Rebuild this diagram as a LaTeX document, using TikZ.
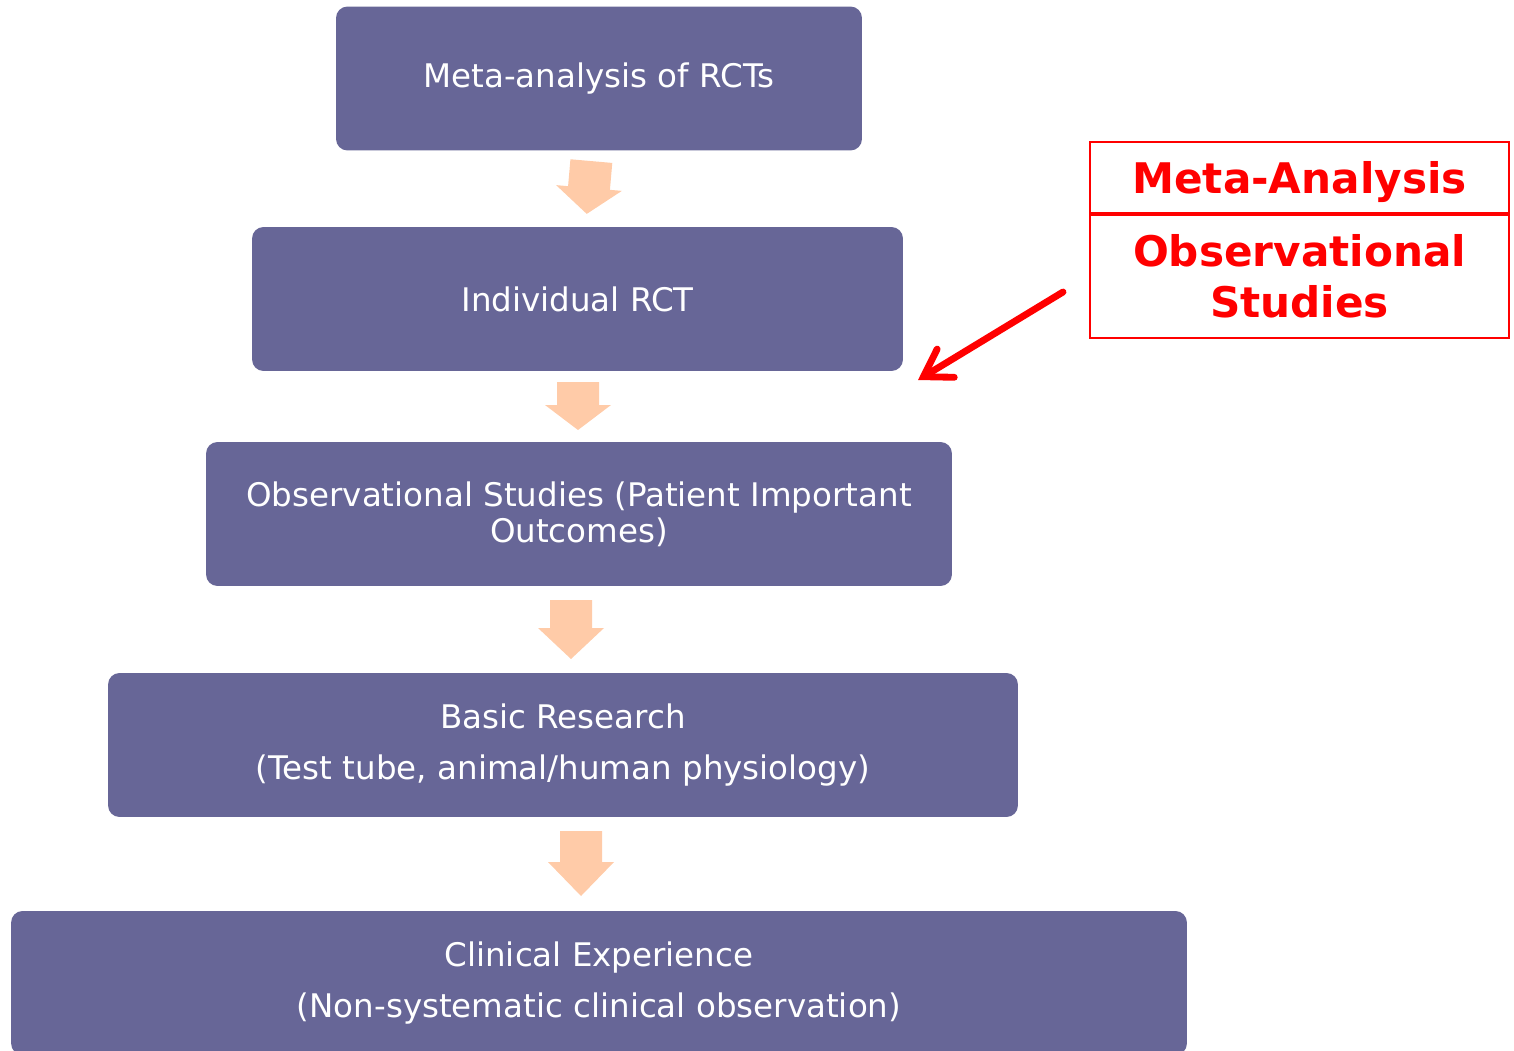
\documentclass[tikz,border=0pt]{standalone}
\usepackage{fontspec}
\setmainfont{DejaVu Sans}
\usetikzlibrary{arrows.meta}
\definecolor{boxblue}{RGB}{103,102,151}
\definecolor{peach}{RGB}{255,203,168}
\definecolor{hotred}{RGB}{255,0,0}
\begin{document}
\begin{tikzpicture}[x=0.02cm,y=-0.02cm,
  level/.style={fill=boxblue,rounded corners=6.5pt,text=white,align=center,
    minimum height=2.88cm,font=\fontsize{18.5}{20.5}\selectfont},
  redbox/.style={draw=hotred,line width=1.1pt,text=hotred,align=center,
    minimum width=8.38cm,font=\bfseries\fontsize{24}{29}\selectfont}]
  \useasboundingbox (0,0) rectangle (1514,1051);
  \node[level,minimum width=10.52cm] (meta) at (599,78.5) {Meta-analysis of RCTs};
  \node[level,minimum width=13.02cm] (rct) at (577.5,299) {Individual RCT};
  \node[level,minimum width=14.92cm] (obs) at (579,514) {Observational Studies (Patient Important\\Outcomes)};
  \node[level,minimum width=18.2cm] (basic) at (563,745) {Basic Research\\[8pt](Test tube, animal/human physiology)};
  \node[level,minimum width=23.52cm] (clin) at (599,983) {Clinical Experience\\[8pt](Non-systematic clinical observation)};
  % block arrows between the levels
  \foreach \xc/\top/\neck/\tip/\rot in {589/161/188/214/-5, 578/382/405/430/0,
      571/600/628/659/0, 581/831/862/896/0}
    \fill[peach,rotate around={\rot:(\xc,\neck)}] (\xc-21,\top) -- (\xc+21,\top) -- (\xc+21,\neck)
      -- (\xc+33,\neck) -- (\xc,\tip) -- (\xc-33,\neck) -- (\xc-21,\neck) -- cycle;
  % red side note
  \node[redbox,minimum height=1.42cm,text depth=0pt] (ma) at (1299.5,177.5) {Meta-Analysis};
  \node[redbox,minimum height=2.46cm,anchor=north] (os) at (ma.south) {Observational\\Studies};
  \coordinate (tail) at (1063,292);
  \coordinate (tip) at (918,380);
  \draw[hotred,line width=3.9pt,line cap=round,
    -{Straight Barb[length=0.52cm,width=0.66cm,line cap=round]}] (tail) -- (tip);
\end{tikzpicture}
\end{document}
